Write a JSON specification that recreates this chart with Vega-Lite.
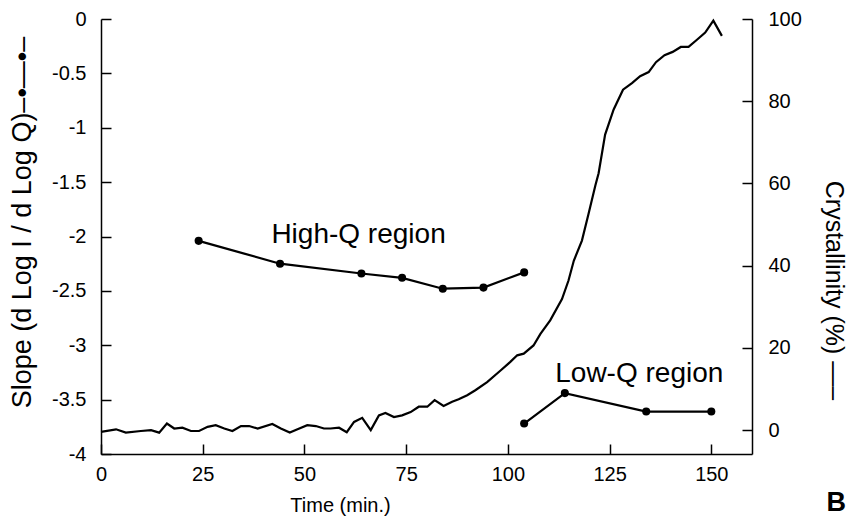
{
  "$schema": "https://vega.github.io/schema/vega-lite/v6.json",
  "width": 651,
  "height": 435,
  "autosize": {"type": "none"},
  "padding": {"left": 101, "top": 19, "right": 96, "bottom": 68},
  "background": "white",
  "view": {"stroke": null},
  "config": {
    "font": "Liberation Sans",
    "axis": {
      "grid": false,
      "labelFlush": false,
      "labelOverlap": false,
      "domainColor": "black",
      "domainWidth": 1.5,
      "tickColor": "black",
      "tickWidth": 1.5,
      "tickSize": -10,
      "labelColor": "black",
      "labelFontSize": 20,
      "titleColor": "black",
      "titleFontSize": 20,
      "titleFontWeight": "normal"
    }
  },
  "title": {
    "text": "B",
    "orient": "bottom",
    "anchor": "end",
    "frame": "group",
    "fontSize": 27,
    "fontWeight": "bold",
    "color": "black",
    "baseline": "alphabetic",
    "offset": 0,
    "dx": 94,
    "dy": -4
  },
  "datasets": {
    "crys": [
      {"t": 0, "c": -0.4}, {"t": 3.7, "c": 0.2}, {"t": 6.1, "c": -0.6}, {"t": 9.8, "c": -0.2},
      {"t": 12.3, "c": 0}, {"t": 14.3, "c": -0.6}, {"t": 16.2, "c": 1.6}, {"t": 18, "c": 0.4},
      {"t": 20, "c": 0.6}, {"t": 22.1, "c": -0.2}, {"t": 24.1, "c": -0.2}, {"t": 26.2, "c": 0.8},
      {"t": 28.2, "c": 1.2}, {"t": 30.3, "c": 0.4}, {"t": 32.3, "c": -0.2}, {"t": 34.4, "c": 1.0},
      {"t": 36.4, "c": 1.0}, {"t": 38.5, "c": 0.4}, {"t": 42.1, "c": 1.5}, {"t": 44.2, "c": 0.4},
      {"t": 46.4, "c": -0.6}, {"t": 48.3, "c": 0.2}, {"t": 50.7, "c": 1.2}, {"t": 52.8, "c": 1.0},
      {"t": 54.8, "c": 0.4}, {"t": 56.4, "c": 0.4}, {"t": 58.5, "c": 0.6}, {"t": 60.4, "c": -0.5},
      {"t": 62.2, "c": 2.0}, {"t": 64.2, "c": 3.0}, {"t": 66.3, "c": 0}, {"t": 68.3, "c": 3.6},
      {"t": 69.9, "c": 4.2}, {"t": 72, "c": 3.2}, {"t": 74, "c": 3.6}, {"t": 76.1, "c": 4.4},
      {"t": 78.1, "c": 5.7}, {"t": 80.2, "c": 5.7}, {"t": 82, "c": 7.3}, {"t": 84.2, "c": 5.9},
      {"t": 86.3, "c": 6.9}, {"t": 87.9, "c": 7.5}, {"t": 90, "c": 8.5}, {"t": 92, "c": 9.7},
      {"t": 94.9, "c": 11.7}, {"t": 98.2, "c": 14.5}, {"t": 100.6, "c": 16.6}, {"t": 102.3, "c": 18.2},
      {"t": 103.9, "c": 18.6}, {"t": 106.3, "c": 20.6}, {"t": 108, "c": 23.4}, {"t": 110.4, "c": 26.7},
      {"t": 113.3, "c": 31.9}, {"t": 114.9, "c": 36.4}, {"t": 116.2, "c": 41.2}, {"t": 118.2, "c": 46.1},
      {"t": 119.8, "c": 52.5}, {"t": 121.5, "c": 59.5}, {"t": 122.3, "c": 62.5}, {"t": 123.9, "c": 71.9},
      {"t": 126, "c": 78}, {"t": 128.3, "c": 82.8}, {"t": 130.5, "c": 84.4}, {"t": 132.5, "c": 86.1},
      {"t": 134.6, "c": 87.1}, {"t": 136.4, "c": 89.5}, {"t": 138.5, "c": 91.2}, {"t": 140.5, "c": 92},
      {"t": 142.5, "c": 93.2}, {"t": 144.4, "c": 93.2}, {"t": 146.4, "c": 94.9}, {"t": 148.5, "c": 96.7},
      {"t": 150.5, "c": 99.6}, {"t": 152.6, "c": 95.9}
    ],
    "slope": [
      {"series": "High-Q", "t": 24, "s": -2.04},
      {"series": "High-Q", "t": 44, "s": -2.25},
      {"series": "High-Q", "t": 64, "s": -2.34},
      {"series": "High-Q", "t": 74, "s": -2.38},
      {"series": "High-Q", "t": 84, "s": -2.48},
      {"series": "High-Q", "t": 94, "s": -2.47},
      {"series": "High-Q", "t": 104, "s": -2.33},
      {"series": "Low-Q", "t": 104, "s": -3.72},
      {"series": "Low-Q", "t": 114, "s": -3.44},
      {"series": "Low-Q", "t": 134, "s": -3.61},
      {"series": "Low-Q", "t": 150, "s": -3.61}
    ],
    "labels": [
      {"label": "High-Q region", "t": 63.3, "s": -2.06},
      {"label": "Low-Q region", "t": 132.3, "s": -3.335}
    ]
  },
  "layer": [
    {
      "data": {"name": "crys"},
      "mark": {"type": "line", "color": "black", "strokeWidth": 2.2},
      "encoding": {
        "x": {
          "field": "t", "type": "quantitative",
          "scale": {"domain": [0, 160], "nice": false},
          "axis": {
            "orient": "bottom",
            "values": [0, 25, 50, 75, 100, 125, 150],
            "labelPadding": 20,
            "title": "Time (min.)",
            "titleX": 239,
            "titleY": 51,
            "titleBaseline": "middle",
            "titleAlign": "center"
          }
        },
        "y": {
          "field": "c", "type": "quantitative",
          "scale": {"domain": [-5.8, 100], "nice": false, "zero": false},
          "axis": {
            "orient": "right",
            "values": [0, 20, 40, 60, 80, 100],
            "labelPadding": 26,
            "title": "Crystallinity (%) —–",
            "titleFontSize": 25,
            "titleAngle": 90,
            "titleX": 81,
            "titleY": 271,
            "titleBaseline": "middle",
            "titleAlign": "center"
          }
        }
      }
    },
    {
      "layer": [
        {
          "data": {"name": "slope"},
          "mark": {"type": "line", "color": "black", "strokeWidth": 2.2,
                   "point": {"filled": true, "color": "black", "size": 65}},
          "encoding": {
            "x": {"field": "t", "type": "quantitative", "scale": {"domain": [0, 160], "nice": false}},
            "y": {
              "field": "s", "type": "quantitative",
              "scale": {"domain": [-4, 0], "nice": false},
              "axis": {
                "orient": "left",
                "values": [-4, -3.5, -3, -2.5, -2, -1.5, -1, -0.5, 0],
                "labelExpr": "datum.value == 0 ? '0' : '-' + format(-datum.value, '~g')",
                "labelPadding": 25,
                "title": "Slope (d Log I / d Log Q)–•—•–",
                "titleFontSize": 27,
                "titleAngle": -90,
                "titleX": -79,
                "titleY": 203,
                "titleBaseline": "middle",
                "titleAlign": "center"
              }
            },
            "detail": {"field": "series"}
          }
        },
        {
          "data": {"name": "labels"},
          "mark": {"type": "text", "fontSize": 28, "align": "center", "baseline": "alphabetic", "color": "black"},
          "encoding": {
            "x": {"field": "t", "type": "quantitative", "scale": {"domain": [0, 160], "nice": false}},
            "y": {"field": "s", "type": "quantitative"},
            "text": {"field": "label"}
          }
        }
      ]
    }
  ],
  "resolve": {"scale": {"y": "independent"}}
}
